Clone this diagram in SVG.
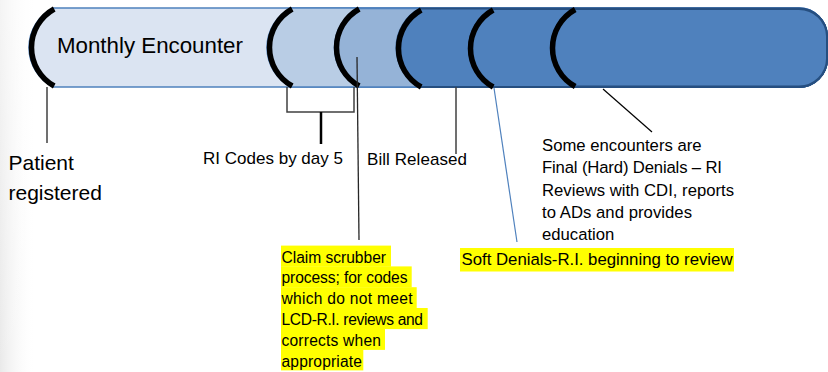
<svg xmlns="http://www.w3.org/2000/svg" width="828" height="372" viewBox="0 0 828 372">
  <defs>
    <linearGradient id="edgeShade" x1="0" y1="0" x2="1" y2="0">
      <stop offset="0" stop-color="#e9e9e9" stop-opacity="1"/>
      <stop offset="1" stop-color="#ffffff" stop-opacity="0"/>
    </linearGradient>
    <linearGradient id="edgeFade" x1="0" y1="0" x2="0" y2="1">
      <stop offset="0" stop-color="#ffffff" stop-opacity="0.5"/>
      <stop offset="1" stop-color="#ffffff" stop-opacity="0"/>
    </linearGradient>
    <style>
      .txt { font-family: "Liberation Sans", Arial, sans-serif; fill: #000; }
      .pill-a { fill: #dbe4f2; stroke: #4f81bd; stroke-width: 1.5; }
      .pill-b { fill: #b9cde5; stroke: #4f81bd; stroke-width: 1.5; }
      .pill-c { fill: #95b3d7; stroke: #4f81bd; stroke-width: 1.5; }
      .pill-d { fill: #4f81bd; stroke: #264f80; stroke-width: 2; }
      .bracket-arc { fill: none; stroke: #000; stroke-width: 5.5; }
      .lead { fill: none; stroke: #404040; stroke-width: 1.5; }
      .hl { fill: #ffff00; }
    </style>
  </defs>

  <!-- page background with soft shading on the left edge -->
  <rect x="0" y="0" width="828" height="372" fill="#ffffff"/>
  <rect x="0" y="0" width="36" height="372" fill="url(#edgeShade)"/>
  <rect x="0" y="0" width="36" height="372" fill="url(#edgeFade)"/>

  <!-- timeline stages: overlapping rounded bars, each with its opening arc -->
  <g id="stage-encounter">
    <path class="pill-a" d="M53.6,8 H799 A28 28 0 0 1 827 36 V59 A28 28 0 0 1 799 87 H53.6 A44 44 0 0 1 53.6,8 Z"/>
  </g>
  <g id="stage-coding">
    <path class="pill-b" d="M291.6,8 H799 A28 28 0 0 1 827 36 V59 A28 28 0 0 1 799 87 H291.6 A44 44 0 0 1 291.6,8 Z"/>
  </g>
  <g id="stage-scrubber">
    <path class="pill-c" d="M358.6,8.5 H799 A28 28 0 0 1 827 36 V59 A28 28 0 0 1 799 87 H358.6 A44 44 0 0 1 358.6,8.5 Z"/>
  </g>
  <g id="stage-billed">
    <path class="pill-d" d="M420.6,8.5 H799 A28 28 0 0 1 827 36 V59 A28 28 0 0 1 799 87 H420.6 A44 44 0 0 1 420.6,8.5 Z"/>
  </g>
  <g id="stage-soft-denials">
    <path class="pill-d" d="M492.6,9 H799 A28 28 0 0 1 827 36 V59 A28 28 0 0 1 799 87 H492.6 A44 44 0 0 1 492.6,9 Z"/>
  </g>
  <g id="stage-hard-denials">
    <path class="pill-d" d="M574.6,9 H799 A28 28 0 0 1 827 36 V59 A28 28 0 0 1 799 86.5 H574.6 A44 44 0 0 1 574.6,9 Z"/>
  </g>

  <g id="stage-arcs">
    <path class="bracket-arc" d="M54.2,86 A44 44 0 0 1 54.2,9"/>
    <path class="bracket-arc" d="M292.2,86 A44 44 0 0 1 292.2,9"/>
    <path class="bracket-arc" d="M359.2,86 A44 44 0 0 1 359.2,9"/>
    <path class="bracket-arc" d="M421.2,87 A44 44 0 0 1 421.2,10"/>
    <path class="bracket-arc" d="M493.2,87 A44 44 0 0 1 493.2,10"/>
    <path class="bracket-arc" d="M575.2,86.5 A44 44 0 0 1 575.2,9.5"/>
  </g>

  <g id="stage-label">
    <text class="txt" x="57" y="53" font-size="22.3">Monthly Encounter</text>
  </g>

  <!-- leader lines -->
  <g id="connectors">
    <line class="lead" x1="47" y1="87" x2="47" y2="143"/>
    <polyline class="lead" points="287,87 287,112 354,112 354,87"/>
    <line x1="321" y1="112" x2="321" y2="144" stroke="#000" stroke-width="2.5"/>
    <line x1="357" y1="57" x2="359" y2="240" stroke="#262626" stroke-width="1.3"/>
    <line class="lead" x1="456" y1="87" x2="456" y2="154"/>
    <line x1="494" y1="88" x2="517" y2="242" stroke="#4f81bd" stroke-width="1.2"/>
    <line x1="603" y1="89" x2="652" y2="132" stroke="#000" stroke-width="1.2"/>
  </g>

  <g id="label-registered">
    <text class="txt" x="8.5" y="170" font-size="21">Patient</text>
    <text class="txt" x="8.5" y="200" font-size="21">registered</text>
  </g>

  <g id="label-coding">
    <text class="txt" x="203" y="164" font-size="17" textLength="140">RI Codes by day 5</text>
  </g>

  <g id="label-billed">
    <text class="txt" x="367" y="165" font-size="17" textLength="100">Bill Released</text>
  </g>

  <g id="label-hard-denials">
    <text class="txt" x="542" y="151" font-size="16.7">Some encounters are</text>
    <text class="txt" x="542" y="173.3" font-size="16.7" textLength="180">Final (Hard) Denials – RI</text>
    <text class="txt" x="542" y="195.7" font-size="16.7" textLength="192">Reviews with CDI, reports</text>
    <text class="txt" x="542" y="218" font-size="16.7" textLength="150">to ADs and provides</text>
    <text class="txt" x="542" y="240.3" font-size="16.7">education</text>
  </g>

  <g id="label-soft-denials">
    <rect class="hl" x="460" y="248" width="274" height="23.5"/>
    <text class="txt" x="461.5" y="265" font-size="16.8" textLength="271">Soft Denials-R.I. beginning to review</text>
  </g>

  <g id="label-scrubber">
    <rect class="hl" x="281" y="245.6" width="110" height="21.1"/>
    <rect class="hl" x="281" y="266.4" width="130.7" height="21.1"/>
    <rect class="hl" x="281" y="287.2" width="135.7" height="21.1"/>
    <rect class="hl" x="281" y="308" width="146.7" height="21.1"/>
    <rect class="hl" x="281" y="328.8" width="104" height="21.1"/>
    <rect class="hl" x="281" y="349.6" width="82.3" height="20.8"/>
    <text class="txt" x="281.5" y="262.5" font-size="15.6" textLength="104.5">Claim scrubber</text>
    <text class="txt" x="281.5" y="283.3" font-size="15.6" textLength="126">process; for codes</text>
    <text class="txt" x="281.5" y="304.1" font-size="15.6" textLength="131">which do not meet</text>
    <text class="txt" x="281.5" y="324.9" font-size="15.6" textLength="141.5">LCD-R.I. reviews and</text>
    <text class="txt" x="281.5" y="345.7" font-size="15.6" textLength="99.5">corrects when</text>
    <text class="txt" x="281.5" y="366.5" font-size="15.6" textLength="80.5">appropriate</text>
  </g>
</svg>
